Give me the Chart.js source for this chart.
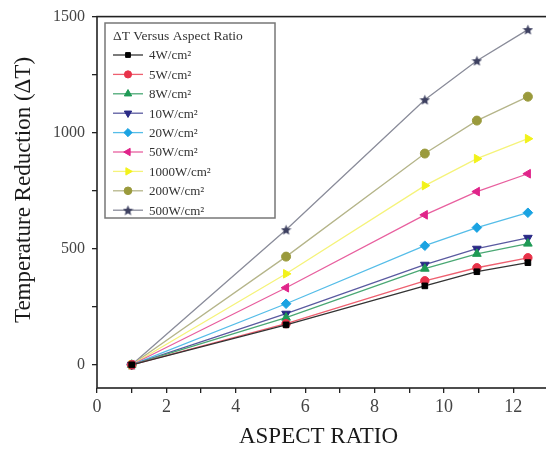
<!DOCTYPE html>
<html>
<head>
<meta charset="utf-8">
<script src="https://cdn.jsdelivr.net/npm/chart.js@4/dist/chart.umd.min.js"></script>
<style>
  html, body { margin: 0; padding: 0; background: #fff; overflow: hidden; }
  #wrap { width: 560px; height: 453px; }
</style>
</head>
<body>
<div id="wrap"><canvas id="chart" width="560" height="453"></canvas></div>
<script>
// data
const aspectRatio = [1, 5.45, 9.45, 10.95, 12.42];
const seriesNames = ['4W/cm²', '5W/cm²', '8W/cm²', '10W/cm²', '20W/cm²', '50W/cm²', '1000W/cm²', '200W/cm²', '500W/cm²'];
const dT4W    = [0, 172, 340, 401, 440];
const dT5W    = [0, 177, 362, 418, 461];
const dT8W    = [0, 203, 414, 478, 522];
const dT10W   = [0, 220, 431, 500, 547];
const dT20W   = [0, 263, 513, 591, 655];
const dT50W   = [0, 332, 646, 746, 823];
const dT1000W = [0, 392, 772, 888, 974];
const dT200W  = [0, 466, 910, 1052, 1155];
const dT500W  = [0, 582, 1142, 1310, 1444];
const xTickLabels = [0, 2, 4, 6, 8, 10, 12];
const yTickLabels = [0, 500, 1000, 1500];
const legendTitle = 'ΔT Versus Aspect Ratio';

const allSeries = [dT4W, dT5W, dT8W, dT10W, dT20W, dT50W, dT1000W, dT200W, dT500W];

// filled five point star, Chart.js 'star' is only an asterisk
function makeStar(size, color) {
    const c = document.createElement('canvas');
    c.width = size; c.height = size;
    const g = c.getContext('2d');
    const r = size / 2, ri = r * 0.45;
    g.fillStyle = color;
    g.beginPath();
    for (let k = 0; k < 10; k++) {
        const rr = k % 2 ? ri : r;
        const ang = -Math.PI / 2 + k * Math.PI / 5;
        g.lineTo(r + rr * Math.cos(ang), r + rr * Math.sin(ang) + 0.5);
    }
    g.closePath();
    g.fill();
    return c;
}

// marker styles
const pointColors = ['#000000', '#e8334a', '#1f9a55', '#2a2a86', '#1aa3e2', '#e0248a', '#f2f21a', '#9a9a3c', '#3d4060'];
const lineColors  = ['#333333', '#ee6070', '#4aa874', '#5a5aa0', '#55bde8', '#e8609f', '#f5f37a', '#b5b58a', '#8a8c9a'];
const pointStyles = ['rect', 'circle', 'triangle', 'triangle', 'rectRot', 'triangle', 'triangle', 'circle', makeStar(11, '#3d4060')];
const rotations   = [0, 0, 0, 180, 0, -90, 90, 0, 0];
const radii       = [4, 4.2, 5, 5, 4.8, 5, 5, 4.5, 5];

const SERIF = '"Liberation Serif", "DejaVu Serif", serif';

const datasets = allSeries.map((vals, i) => ({
    label: seriesNames[i],
    data: vals.map((v, k) => ({ x: aspectRatio[k], y: v })),
    showLine: true,
    borderColor: lineColors[i],
    borderWidth: 1.3,
    backgroundColor: pointColors[i],
    pointBackgroundColor: pointColors[i],
    pointBorderColor: pointColors[i],
    pointBorderWidth: 1,
    pointStyle: pointStyles[i],
    rotation: rotations[i],
    pointRadius: radii[i],
    tension: 0
}));

// frame, axis titles and the boxed legend
const decorPlugin = {
    id: 'decor',
    afterDraw(chart) {
        const ctx = chart.ctx;
        const a = chart.chartArea;
        ctx.save();
        ctx.strokeStyle = '#222';
        ctx.lineWidth = 1.6;
        ctx.strokeRect(a.left, a.top, a.right - a.left, a.bottom - a.top);

        // axis titles
        ctx.fillStyle = '#1a1a1a';
        ctx.font = '23px ' + SERIF;
        ctx.textAlign = 'center';
        ctx.textBaseline = 'middle';
        ctx.fillText('ASPECT RATIO', (a.left + a.right) / 2 - 4, 437);
        ctx.save();
        ctx.translate(24, 190);
        ctx.rotate(-Math.PI / 2);
        ctx.fillText('Temperature Reduction (ΔT)', 0, 0);
        ctx.restore();

        // legend box
        const bx = 105, by = 23, bw = 170, bh = 195;
        ctx.fillStyle = '#fff';
        ctx.fillRect(bx, by, bw, bh);
        ctx.strokeStyle = '#777';
        ctx.lineWidth = 1.5;
        ctx.strokeRect(bx, by, bw, bh);
        ctx.fillStyle = '#333';
        ctx.font = '13.5px ' + SERIF;
        ctx.textAlign = 'left';
        ctx.fillText(legendTitle, bx + 8, 36);
        chart.data.datasets.forEach((ds, i) => {
            const y = 55 + i * 19.4;
            ctx.strokeStyle = ds.borderColor;
            ctx.lineWidth = 1.3;
            ctx.beginPath();
            ctx.moveTo(bx + 8, y);
            ctx.lineTo(bx + 38, y);
            ctx.stroke();
            ctx.fillStyle = ds.pointBackgroundColor;
            ctx.strokeStyle = ds.pointBorderColor;
            ctx.lineWidth = 1;
            Chart.helpers.drawPoint(ctx, {
                pointStyle: ds.pointStyle,
                rotation: ds.rotation,
                radius: ds.pointRadius * 0.85,
                borderWidth: 1
            }, bx + 23, y);
            ctx.fillStyle = '#333';
            ctx.font = '13px ' + SERIF;
            ctx.fillText(ds.label, bx + 44, y + 1);
        });
        ctx.restore();
    }
};

new Chart(document.getElementById('chart'), {
    type: 'scatter',
    data: { datasets },
    options: {
        responsive: false,
        animation: false,
        layout: { padding: { top: 16, right: 12, left: 0, bottom: 0 } },
        plugins: {
            legend: { display: false },
            tooltip: { enabled: false }
        },
        scales: {
            x: {
                type: 'linear',
                min: 0,
                max: 13,
                border: { display: false },
                grid: { drawOnChartArea: false, tickLength: 5, color: '#222', lineWidth: 1.3 },
                ticks: {
                    stepSize: 1,
                    autoSkip: false,
                    maxRotation: 0,
                    padding: 3,
                    color: '#444',
                    font: { family: SERIF, size: 18 },
                    callback: v => xTickLabels.includes(v) ? String(v) : ''
                },
                afterFit: s => { s.height = 65; }
            },
            y: {
                min: -100,
                max: 1500,
                border: { display: false },
                grid: { drawOnChartArea: false, tickLength: 5, color: '#222', lineWidth: 1.3 },
                afterBuildTicks: s => { s.ticks = s.ticks.filter(t => t.value % 250 === 0); },
                ticks: {
                    stepSize: 250,
                    autoSkip: false,
                    padding: 7,
                    color: '#444',
                    font: { family: SERIF, size: 16 },
                    callback: v => yTickLabels.includes(v) ? String(v) : ''
                },
                afterFit: s => { s.width = 97; }
            }
        }
    },
    plugins: [decorPlugin]
});
</script>
</body>
</html>
